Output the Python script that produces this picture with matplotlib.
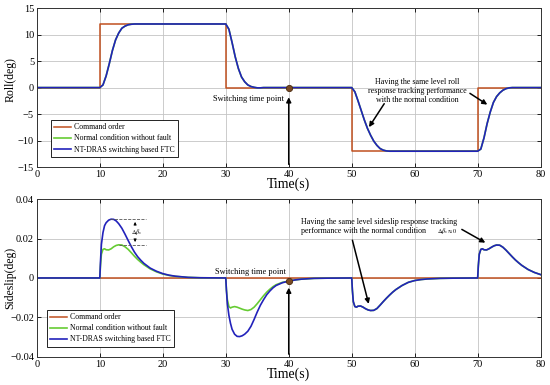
import matplotlib
matplotlib.use("Agg")
import matplotlib.pyplot as plt

plt.rcParams["font.family"] = ["Liberation Serif", "DejaVu Serif"]
plt.rcParams["mathtext.fontset"] = "stix"

# ---- roll data ----
cmd_t = [0, 10, 30, 50, 70, 80]
roll_cmd = [0, 12, 0, -12, 0, 0]

roll_t = [0, 10, 10.5, 11, 11.5, 12, 12.5, 13, 13.5, 14, 14.5, 15, 15.5, 16,
          30, 30.5, 31, 31.5, 32, 32.5, 33, 33.5, 34, 34.5, 35, 35.5, 36,
          50, 50.5, 51, 51.5, 52, 52.5, 53, 53.5, 54, 54.5, 55, 55.5, 56,
          70, 70.5, 71, 71.5, 72, 72.5, 73, 73.5, 74, 74.5, 75, 75.5, 80]
roll_ftc = [0, 0, 0.5, 2.2, 4.5, 7, 9, 10.3, 11.2, 11.6, 11.85, 11.95, 12, 12,
            12, 11, 8.5, 5.8, 3.6, 2.0, 1.1, 0.5, 0.2, 0.05, -0.05, -0.05, 0,
            0, -0.8, -2.5, -4.3, -6.1, -7.7, -9.0, -10.1, -10.9, -11.5, -11.8, -11.95, -12,
            -12, -11.6, -9.5, -6.8, -4.6, -2.8, -1.7, -1.0, -0.5, -0.2, -0.05, 0, 0]
roll_normal = list(roll_ftc)

# ---- sideslip data ----
beta_t = [0,
          10, 10.1, 10.25, 10.5, 10.75, 11, 11.4, 11.8, 12.2, 12.6, 13, 13.5, 14,
          14.5, 15, 15.5, 16, 16.5, 17, 18, 19, 20, 21, 22, 24, 26,
          30, 30.1, 30.25, 30.5, 30.75, 31, 31.4, 31.8, 32.2, 32.6, 33, 33.5, 34,
          34.5, 35, 35.5, 36, 36.5, 37, 37.5, 38, 39, 40, 41, 42, 44, 46,
          50, 50.1, 50.25, 50.5, 50.75, 51, 51.4, 51.8, 52.2, 52.6, 53, 53.5, 54,
          54.5, 55, 55.5, 56, 56.5, 57, 58, 59, 60, 61, 62, 64, 66,
          70, 70.1, 70.25, 70.5, 70.75, 71, 71.4, 71.8, 72.2, 72.6, 73, 73.5, 74,
          74.5, 75, 75.5, 76, 76.5, 77, 78, 79, 80]
beta_cmd = [0] * len(beta_t)
beta_ftc = [0,
            0, 0.008, 0.017, 0.023, 0.0265, 0.028, 0.0293, 0.0298, 0.0297, 0.0289, 0.0275, 0.0252, 0.0222,
            0.019, 0.0159, 0.0131, 0.0108, 0.009, 0.0074, 0.005, 0.0034, 0.0022, 0.0014, 0.0009, 0.0003, 0.0001,
            0, -0.006, -0.013, -0.019, -0.023, -0.026, -0.0285, -0.0296, -0.0297, -0.0293, -0.0285, -0.027, -0.0245,
            -0.021, -0.0172, -0.0138, -0.011, -0.0085, -0.0066, -0.005, -0.0038, -0.0024, -0.0016, -0.001, -0.0006, -0.0002, -0.0001,
            0, -0.006, -0.012, -0.0145, -0.0148, -0.0143, -0.0142, -0.0148, -0.0156, -0.0162, -0.0165, -0.0164, -0.0155,
            -0.0138, -0.012, -0.0103, -0.0087, -0.0072, -0.0059, -0.0038, -0.0022, -0.0013, -0.0008, -0.0005, -0.0002, -0.0001,
            0, 0.006, 0.012, 0.0145, 0.0148, 0.0143, 0.0142, 0.0148, 0.0156, 0.0163, 0.0167, 0.0166, 0.0156,
            0.0141, 0.0124, 0.0107, 0.0091, 0.0077, 0.0064, 0.0043, 0.0028, 0.0017]
beta_normal = [0,
               0, 0.006, 0.012, 0.0145, 0.0148, 0.0143, 0.0142, 0.0148, 0.0158, 0.0165, 0.0168, 0.0167, 0.0158,
               0.0145, 0.0128, 0.011, 0.0094, 0.008, 0.0067, 0.0046, 0.0031, 0.002, 0.0013, 0.0008, 0.0003, 0.0001,
               0, -0.006, -0.011, -0.0145, -0.0152, -0.0148, -0.0145, -0.0148, -0.0153, -0.0158, -0.0162, -0.0165, -0.016,
               -0.0148, -0.013, -0.011, -0.009, -0.0072, -0.0057, -0.0044, -0.0034, -0.0022, -0.0016, -0.001, -0.0006, -0.0002, -0.0001,
               0, -0.006, -0.012, -0.0145, -0.0148, -0.0143, -0.0142, -0.0148, -0.0156, -0.0162, -0.0165, -0.0164, -0.0155,
               -0.0138, -0.012, -0.0103, -0.0087, -0.0072, -0.0059, -0.0038, -0.0022, -0.0013, -0.0008, -0.0005, -0.0002, -0.0001,
               0, 0.006, 0.012, 0.0145, 0.0148, 0.0143, 0.0142, 0.0148, 0.0156, 0.0163, 0.0167, 0.0166, 0.0156,
               0.0141, 0.0124, 0.0107, 0.0091, 0.0077, 0.0064, 0.0043, 0.0028, 0.0017]

switch_t = 40
switch_roll = 0
switch_beta = -0.0016

beta_ticks = [-0.04, -0.02, 0, 0.02, 0.04]
beta_ticklabels = ["\u22120.04", "\u22120.02", "0", "0.02", "0.04"]

labels = ["Command order", "Normal condition without fault", "NT-DRAS switching based FTC"]
c_cmd = "#c0501f"
c_norm = "#66cc33"
c_ftc = "#2222bb"
c_dot = "#7a4a22"

fig = plt.figure(figsize=(5.5, 3.85), dpi=100)
ax1 = fig.add_axes([0.067, 0.566, 0.916, 0.413])
ax2 = fig.add_axes([0.067, 0.073, 0.916, 0.41])

arrow = dict(arrowstyle="-|>", color="k", lw=1.1, mutation_scale=7)


def style(ax):
    ax.set_xlim(0, 80)
    ax.set_xticks(range(0, 81, 10))
    ax.grid(True, color="#c4c4c4", lw=0.6)
    ax.set_axisbelow(True)
    ax.tick_params(direction="in", length=3, width=0.6, labelsize=7.5, pad=2,
                   top=True, right=True)
    for s in ax.spines.values():
        s.set_linewidth(0.7)
        s.set_color("#333333")
    ax.set_xlabel("Time(s)", fontsize=10, labelpad=-1)


def add_legend(ax, x0):
    leg = ax.legend(loc="lower left", bbox_to_anchor=(x0, 0.063), borderaxespad=0,
                    fontsize=5.6, fancybox=False, edgecolor="k", framealpha=1,
                    handlelength=2.1, handletextpad=0.4, borderpad=0.45,
                    labelspacing=0.4)
    leg.get_frame().set_linewidth(0.6)


# top: roll
ax1.plot(cmd_t, roll_cmd, drawstyle="steps-post", color=c_cmd, lw=1.1, label=labels[0])
ax1.plot(roll_t, roll_normal, color=c_norm, lw=1.2, label=labels[1])
ax1.plot(roll_t, roll_ftc, color=c_ftc, lw=1.2, label=labels[2])
ax1.set_ylim(-15, 15)
ax1.set_yticks(range(-15, 16, 5))
style(ax1)
ax1.set_ylabel("Roll(deg)", fontsize=8.5)
ax1.yaxis.set_label_coords(-0.04, 0.55)
ax1.annotate("", xy=(switch_t, -1.3), xytext=(switch_t, -15), arrowprops=arrow)
ax1.plot([switch_t], [switch_roll], "o", color=c_dot, ms=4.5, mec="#4a2a10", mew=0.6, zorder=5)
ax1.text(39.3, -2.1, "Switching time point", fontsize=6, ha="right", va="center")
ax1.text(60.4, -0.7, "Having the same level roll\nresponse tracking performance\nwith the normal condition",
         fontsize=5.8, ha="center", va="center", linespacing=1.15)
ax1.annotate("", xy=(52.5, -7.9), xytext=(55.4, -2.6), arrowprops=arrow)
ax1.annotate("", xy=(71.9, -3.5), xytext=(68.4, -0.8), arrowprops=arrow)
add_legend(ax1, 0.028)

# bottom: sideslip
ax2.plot(beta_t, beta_cmd, color=c_cmd, lw=1.1, label=labels[0])
ax2.plot(beta_t, beta_normal, color=c_norm, lw=1.2, label=labels[1])
ax2.plot(beta_t, beta_ftc, color=c_ftc, lw=1.2, label=labels[2])
ax2.set_ylim(-0.04, 0.04)
ax2.set_yticks(beta_ticks)
ax2.set_yticklabels(beta_ticklabels)
style(ax2)
ax2.set_ylabel("Sideslip(deg)", fontsize=8.5)
ax2.yaxis.set_label_coords(-0.04, 0.5)
ax2.annotate("", xy=(switch_t, -0.0035), xytext=(switch_t, -0.04), arrowprops=arrow)
ax2.plot([switch_t], [switch_beta], "o", color=c_dot, ms=4.5, mec="#4a2a10", mew=0.6, zorder=5)
ax2.text(39.5, 0.0028, "Switching time point", fontsize=6, ha="right", va="center")
ax2.text(42, 0.0285, "Having the same level sideslip response tracking",
         fontsize=5.8, ha="left", va="center")
ax2.text(42, 0.0236, "performance with the normal condition",
         fontsize=5.8, ha="left", va="center")
ax2.text(63.6, 0.0236, r"$\Delta\beta_s\approx0$", fontsize=4.5, ha="left", va="center")
ax2.annotate("", xy=(52.8, -0.0145), xytext=(50.0, 0.0205), arrowprops=arrow)
ax2.annotate("", xy=(71.6, 0.0172), xytext=(67.1, 0.0253), arrowprops=arrow)
# delta beta marker
ax2.plot([11.6, 17.3], [0.0298, 0.0298], "--", color="#555555", lw=0.6)
ax2.plot([13.0, 17.3], [0.0168, 0.0168], "--", color="#555555", lw=0.6)
ax2.annotate("", xy=(15.6, 0.0298), xytext=(15.6, 0.0255),
             arrowprops=dict(arrowstyle="-|>", color="k", lw=0.6, mutation_scale=4))
ax2.annotate("", xy=(15.6, 0.0168), xytext=(15.6, 0.021),
             arrowprops=dict(arrowstyle="-|>", color="k", lw=0.6, mutation_scale=4))
ax2.text(15.0, 0.0233, r"$\Delta\beta_s$", fontsize=4.5, ha="left", va="center")
add_legend(ax2, 0.02)

fig.savefig("out.png", dpi=100, facecolor="white")
